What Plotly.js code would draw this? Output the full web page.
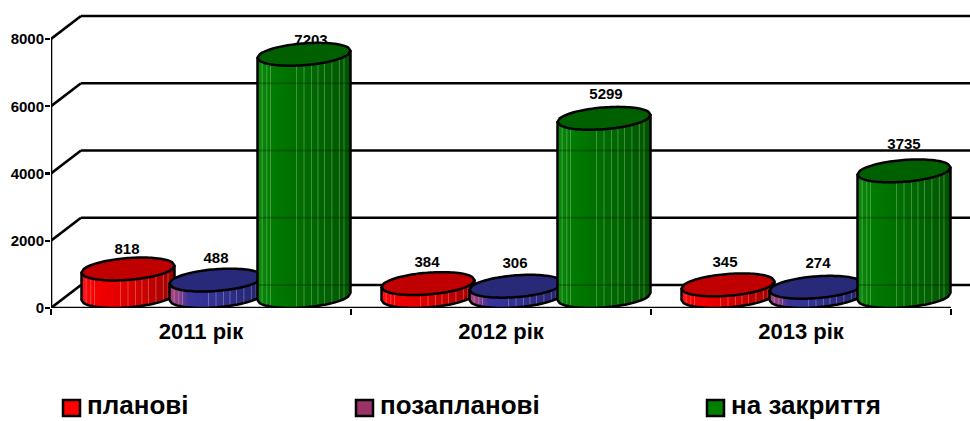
<!DOCTYPE html>
<html>
<head>
<meta charset="utf-8">
<script src="https://cdn.plot.ly/plotly-3.0.1.min.js"></script>
<style>html,body{margin:0;padding:0;background:#fff}#chart{width:970px;height:421px}</style>
</head>
<body>
<div id="chart"></div>
<script>
// ---- data ----
const categories = ['2011 рік', '2012 рік', '2013 рік'];
const seriesNames = ['планові', 'позапланові', 'на закриття'];
const planned = [818, 384, 345];
const unplanned = [488, 306, 274];
const closure = [7203, 5299, 3735];
const yTicks = [0, 2000, 4000, 6000, 8000];
const legendColors = ['#ff0000', '#993366', '#008000'];
const topColors = ['#c00000', '#29297a', '#006000'];
const redRamp = ['#ff1414', '#f80000', '#f00000', '#ea0000', '#e40000', '#dc0000', '#d20000', '#c60000', '#b80000', '#aa0000', '#a00000'];
const blueRamp = ['#a8447c', '#8c3c84', '#3a3398', '#333399', '#333396', '#323290', '#30308a', '#2c2c82', '#29297a', '#262672', '#22226a'];
const greenRamp = ['#0c8a0c', '#048004', '#007a00', '#007400', '#007000', '#006c00', '#006800', '#006400', '#006000', '#005a00', '#005400'];
const streakAt = [0.05, 0.10, 0.14, 0.42, 0.50, 0.58, 0.65, 0.72, 0.80, 0.88, 0.93];
// label nudges in pixels: [x, y above the top-face centre]
const labelNudge = [
  [[-1, 19], [0, 21], [7, 13]],
  [[-1, 20], [-1, 22], [2, 23]],
  [[-3, 22], [2, 23], [0, 26]]
];

// ---- geometry of the drawing (pixels of the axes) ----
const plotTop = 10, plotBottom = 308, plotLeft = 51, plotRight = 970;
const pxPerUnit = 33.625 / 1000, pxPerCat = 300;
const A = 46.5, B = 10.9, K = 3.5 / 46.5;      // ellipse half width, half height, shear
const baseLift = 11.5 / pxPerUnit;             // centre of bottom ellipse above axis
const backDX = 30 / pxPerCat, backDY = 23 / pxPerUnit;
const seriesDX = [-88 / pxPerCat, 0, 88 / pxPerCat];
const CENTER = 0.55;
const allSeries = [planned, unplanned, closure];
const ramps = [redRamp, blueRamp, greenRamp];

const hexMix = (a, b, t) => {
  const p = s => [1, 3, 5].map(i => parseInt(s.substr(i, 2), 16));
  const A1 = p(a), B1 = p(b);
  return 'rgb(' + A1.map((v, i) => Math.round(v + (B1[i] - v) * t)).join(',') + ')';
};
const rampAt = (ramp, t) => {
  const f = t * (ramp.length - 1), i = Math.min(Math.floor(f), ramp.length - 2);
  return hexMix(ramp[i], ramp[i + 1], f - i);
};
const arc = dx => B * Math.sqrt(Math.max(0, 1 - (dx / A) * (dx / A)));
const toY = (centre, dxPx, sign) => centre + (K * dxPx + sign * arc(dxPx)) / pxPerUnit;
const toX = (cx, dxPx) => cx + dxPx / pxPerCat;

const shapes = [];
// back wall and side wall
yTicks.forEach(v => {
  shapes.push({type: 'line', layer: 'below', xref: 'x', yref: 'y', x0: backDX, x1: (plotRight - plotLeft) / pxPerCat,
    y0: v + backDY, y1: v + backDY, line: {color: '#000', width: 2.6}});
  shapes.push({type: 'line', layer: 'below', xref: 'x', yref: 'y', x0: 0, x1: backDX,
    y0: v, y1: v + backDY, line: {color: '#000', width: 2.6}});
});
shapes.push({type: 'line', layer: 'below', xref: 'x', yref: 'y', x0: 0, x1: 0, y0: 0, y1: 8000, line: {color: '#000', width: 2.6}});
shapes.push({type: 'line', layer: 'below', xref: 'x', yref: 'y', x0: 0, x1: 3, y0: 0, y1: 0, line: {color: '#000', width: 2.6}});

function cylinder(cx, v, s, catIdx) {
  const ramp = ramps[s];
  const topC = baseLift + v, botC = baseLift;
  const N = 31, step = 2 * A / N;
  for (let i = 0; i < N; i++) {
    const d0 = -A + i * step, d1 = Math.min(A, d0 + step + 0.6), dm = (d0 + d1) / 2;
    const c = rampAt(ramp, (i + 0.5) / N);
    const pts = [[d0, toY(topC, d0, 0)], [d1, toY(topC, d1, 0)], [d1, toY(botC, d1, -1)], [dm, toY(botC, dm, -1)], [d0, toY(botC, d0, -1)]];
    shapes.push({type: 'path', layer: 'above', xref: 'x', yref: 'y',
      path: 'M' + pts.map(p => toX(cx, p[0]) + ',' + p[1]).join('L') + 'Z', fillcolor: c, line: {width: 0}});
  }
  streakAt.forEach(f => {
    const d = -A + 2 * A * f;
    shapes.push({type: 'line', layer: 'above', xref: 'x', yref: 'y', x0: toX(cx, d), x1: toX(cx, d),
      y0: toY(topC, d, 0), y1: toY(botC, d, -1), line: {color: 'rgba(255,255,255,0.27)', width: 1}});
  });
  if (s === 2) {
    yTicks.forEach(t => {
      const y = t + backDY;
      if (y < topC && y > botC - 6 / pxPerUnit) {
        shapes.push({type: 'line', layer: 'above', xref: 'x', yref: 'y', x0: toX(cx, -A), x1: toX(cx, A), y0: y, y1: y,
          line: {color: 'rgba(0,0,0,0.22)', width: 2}});
      }
    });
  }
  // outline of body
  const out = [[-A, toY(topC, -A, 0)]];
  for (let i = 0; i <= 40; i++) { const d = -A + 2 * A * i / 40; out.push([d, toY(botC, d, -1)]); }
  out.push([A, toY(topC, A, 0)]);
  shapes.push({type: 'path', layer: 'above', xref: 'x', yref: 'y',
    path: 'M' + out.map(p => toX(cx, p[0]) + ',' + p[1]).join('L'), fillcolor: 'rgba(0,0,0,0)',
    line: {color: '#000', width: 2.5}});
  // top face
  const up = [], lo = [];
  for (let i = 0; i <= 40; i++) {
    const d = -A + 2 * A * i / 40;
    up.push([d, toY(topC, d, 1)]);
    lo.unshift([d, toY(topC, d, -1)]);
  }
  shapes.push({type: 'path', layer: 'above', xref: 'x', yref: 'y',
    path: 'M' + up.concat(lo).map(p => toX(cx, p[0]) + ',' + p[1]).join('L') + 'Z', fillcolor: topColors[s],
    line: {color: '#000', width: 2.5}});
}

const traces = [];
allSeries.forEach((vals, s) => {
  const xs = vals.map((_, i) => i + CENTER + seriesDX[s]);
  traces.push({type: 'bar', name: seriesNames[s], x: xs, y: vals, base: baseLift, width: 84 / pxPerCat,
    marker: {color: ramps[s][4], line: {width: 0}}, hoverinfo: 'skip', showlegend: false});
});
categories.forEach((_, c) => {
  allSeries.forEach((vals, s) => cylinder(c + CENTER + seriesDX[s], vals[c], s, c));
});
// value labels
allSeries.forEach((vals, s) => {
  traces.push({type: 'scatter', mode: 'text', showlegend: false, hoverinfo: 'skip',
    x: vals.map((_, i) => i + CENTER + seriesDX[s] + labelNudge[i][s][0] / pxPerCat),
    y: vals.map((v, i) => baseLift + v + labelNudge[i][s][1] / pxPerUnit),
    text: vals.map(String), textposition: 'middle center',
    textfont: {family: 'Liberation Sans, Arial, sans-serif', size: 15, color: '#000', weight: 700}});
});

// legend, drawn to keep the reference's uneven spacing
const legendX = [62, 355, 706];
const annotations = seriesNames.map((n, i) => ({
  xref: 'paper', yref: 'paper', x: (legendX[i] + 24 - plotLeft) / (plotRight - plotLeft), y: (plotBottom - 405) / (plotBottom - plotTop),
  xanchor: 'left', yanchor: 'middle', showarrow: false, text: n, borderpad: 0,
  font: {family: 'Liberation Sans, Arial, sans-serif', size: 26, color: '#000', weight: 700}
}));
legendColors.forEach((c, i) => {
  shapes.push({type: 'rect', layer: 'above', xref: 'paper', yref: 'paper',
    x0: (legendX[i] + 1 - plotLeft) / (plotRight - plotLeft), x1: (legendX[i] + 18 - plotLeft) / (plotRight - plotLeft),
    y0: (plotBottom - 416) / (plotBottom - plotTop), y1: (plotBottom - 400) / (plotBottom - plotTop),
    fillcolor: c, line: {color: '#000', width: 2.5}});
});

const layout = {
  width: 970, height: 421, paper_bgcolor: '#fff', plot_bgcolor: '#fff', showlegend: false,
  margin: {l: plotLeft, r: 0, t: plotTop, b: 421 - plotBottom, pad: 0},
  xaxis: {type: 'linear', range: [0, (plotRight - plotLeft) / pxPerCat], showgrid: false, zeroline: false, showline: false,
    tickmode: 'array', tickvals: categories.map((_, i) => i + 0.5), ticktext: categories, ticks: '',
    ticklabelstandoff: 8,
    tickfont: {family: 'Liberation Sans, Arial, sans-serif', size: 22, color: '#000', weight: 700},
    minor: {tickmode: 'array', tickvals: [0, 1, 2, 3], ticks: 'outside', ticklen: 6, tickwidth: 2.4, tickcolor: '#000', showgrid: false}},
  yaxis: {range: [0, (plotBottom - plotTop) / pxPerUnit], showgrid: false, zeroline: false, showline: false,
    tickmode: 'array', tickvals: yTicks, ticktext: yTicks.map(String), ticks: 'outside', ticklen: 5, tickwidth: 2.4, tickcolor: '#000',
    ticklabelstandoff: -2,
    tickfont: {family: 'Liberation Sans, Arial, sans-serif', size: 15, color: '#000', weight: 700}},
  shapes, annotations, bargap: 0, barmode: 'overlay', hovermode: false
};
Plotly.newPlot('chart', traces, layout, {displayModeBar: false, staticPlot: true});
</script>
</body>
</html>
